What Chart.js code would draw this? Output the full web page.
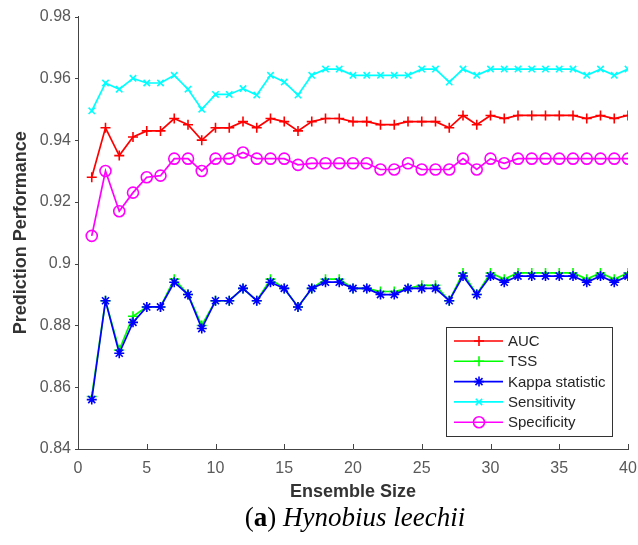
<!DOCTYPE html>
<html>
<head>
<meta charset="utf-8">
<script src="https://cdn.jsdelivr.net/npm/chart.js@4/dist/chart.umd.min.js"></script>
<style>
  body { margin: 0; background: #fff; }
  #wrap { position: relative; width: 638px; height: 545px; }
  #caption {
    position: absolute; left: 0; top: 502px; width: 710px;
    text-align: center; font-family: 'Liberation Serif', serif; font-size: 27px; color: #000;
  }
</style>
</head>
<body>
<div id="wrap">
  <canvas id="Chart" width="638" height="503"></canvas>
  <div id="caption">(<b>a</b>) <i>Hynobius leechii</i></div>
</div>
<script>
const ensembleSize = Array.from({ length: 40 }, (_, i) => i + 1);
const xTicks = [0, 5, 10, 15, 20, 25, 30, 35, 40];
const yTicks = [0.84, 0.86, 0.88, 0.9, 0.92, 0.94, 0.96, 0.98];

const auc = [0.928, 0.944, 0.935, 0.941, 0.943, 0.943, 0.947, 0.945, 0.940, 0.944,
  0.944, 0.946, 0.944, 0.947, 0.946, 0.943, 0.946, 0.947, 0.947, 0.946,
  0.946, 0.945, 0.945, 0.946, 0.946, 0.946, 0.944, 0.948, 0.945, 0.948,
  0.947, 0.948, 0.948, 0.948, 0.948, 0.948, 0.947, 0.948, 0.947, 0.948];
const tss = [0.857, 0.888, 0.872, 0.883, 0.886, 0.886, 0.895, 0.890, 0.880, 0.888,
  0.888, 0.892, 0.888, 0.895, 0.892, 0.886, 0.892, 0.895, 0.895, 0.892,
  0.892, 0.891, 0.891, 0.892, 0.893, 0.893, 0.888, 0.897, 0.890, 0.897,
  0.895, 0.897, 0.897, 0.897, 0.897, 0.897, 0.895, 0.897, 0.895, 0.897];
const kappa = [0.856, 0.888, 0.871, 0.881, 0.886, 0.886, 0.894, 0.890, 0.879, 0.888,
  0.888, 0.892, 0.888, 0.894, 0.892, 0.886, 0.892, 0.894, 0.894, 0.892,
  0.892, 0.890, 0.890, 0.892, 0.892, 0.892, 0.888, 0.896, 0.890, 0.896,
  0.894, 0.896, 0.896, 0.896, 0.896, 0.896, 0.894, 0.896, 0.894, 0.896];
const sensitivity = [0.9495, 0.9585, 0.9565, 0.960, 0.9585, 0.9585, 0.961, 0.9565, 0.950, 0.9548,
  0.9548, 0.9567, 0.9546, 0.961, 0.9588, 0.9546, 0.961, 0.963, 0.963, 0.961,
  0.961, 0.961, 0.961, 0.961, 0.963, 0.963, 0.9588, 0.963, 0.961, 0.963,
  0.963, 0.963, 0.963, 0.963, 0.963, 0.963, 0.961, 0.963, 0.961, 0.963];
const specificity = [0.909, 0.930, 0.917, 0.923, 0.928, 0.9285, 0.934, 0.934, 0.930, 0.934,
  0.934, 0.936, 0.934, 0.934, 0.934, 0.932, 0.9325, 0.9325, 0.9325, 0.9325,
  0.9325, 0.9305, 0.9305, 0.9325, 0.9305, 0.9305, 0.9305, 0.934, 0.9305, 0.934,
  0.9325, 0.934, 0.934, 0.934, 0.934, 0.934, 0.934, 0.934, 0.934, 0.934];

const FONT = "'Liberation Sans', Arial, sans-serif";

function series(label, values, color, style, radius, order) {
  return {
    label: label,
    data: ensembleSize.map((x, i) => ({ x: x, y: values[i] })),
    borderColor: color,
    borderWidth: 1.7,
    fill: false,
    tension: 0,
    pointStyle: style,
    pointRadius: radius,
    pointBorderColor: color,
    pointBackgroundColor: style === 'circle' ? 'rgba(0,0,0,0)' : color,
    pointBorderWidth: 1.6,
    order: order
  };
}

const datasets = [
  series('AUC', auc, '#ff0000', 'cross', 5, 4),
  series('TSS', tss, '#00ff00', 'cross', 5, 3),
  series('Kappa statistic', kappa, '#0000ff', 'star', 5, 2),
  series('Sensitivity', sensitivity, '#00ffff', 'crossRot', 4.5, 1),
  series('Specificity', specificity, '#ff00ff', 'circle', 5.5, 0)
];

function marker(ctx, style, x, y, r) {
  ctx.beginPath();
  if (style === 'circle') {
    ctx.arc(x, y, r, 0, Math.PI * 2);
  } else {
    const angles = style === 'cross' ? [0, 90] : style === 'crossRot' ? [45, 135] : [0, 45, 90, 135];
    angles.forEach(a => {
      const dx = Math.cos(a * Math.PI / 180) * r, dy = Math.sin(a * Math.PI / 180) * r;
      ctx.moveTo(x - dx, y - dy);
      ctx.lineTo(x + dx, y + dy);
    });
  }
  ctx.stroke();
}

// inward x ticks, short outward y ticks and the boxed legend, like the matlab figure
const axisExtras = {
  id: 'axisExtras',
  afterDraw(chart) {
    const { ctx, chartArea, scales } = chart;
    ctx.save();
    ctx.strokeStyle = '#444';
    ctx.lineWidth = 1;
    xTicks.forEach(v => {
      const px = Math.round(scales.x.getPixelForValue(v)) + 0.5;
      ctx.beginPath();
      ctx.moveTo(px, chartArea.bottom);
      ctx.lineTo(px, chartArea.bottom - 5);
      ctx.stroke();
    });
    yTicks.forEach(v => {
      const py = Math.round(scales.y.getPixelForValue(v)) + 0.5;
      ctx.beginPath();
      ctx.moveTo(chartArea.left, py);
      ctx.lineTo(chartArea.left - 3, py);
      ctx.stroke();
    });

    const w = 166, h = 109;
    const bx = chartArea.right - 16 - w, by = chartArea.bottom - 13 - h;
    ctx.fillStyle = '#fff';
    ctx.fillRect(bx, by, w, h);
    ctx.strokeStyle = '#333';
    ctx.strokeRect(bx + 0.5, by + 0.5, w, h);
    ctx.font = '15px ' + FONT;
    ctx.textBaseline = 'middle';
    datasets.forEach((ds, i) => {
      const y = by + 14 + i * 20.3;
      ctx.strokeStyle = ds.borderColor;
      ctx.lineWidth = 1.6;
      ctx.beginPath();
      ctx.moveTo(bx + 8, y);
      ctx.lineTo(bx + 57, y);
      ctx.stroke();
      marker(ctx, ds.pointStyle, bx + 33, y, ds.pointRadius);
      ctx.fillStyle = '#262626';
      ctx.fillText(ds.label, bx + 62, y + 1);
    });
    ctx.restore();
  }
};

const ctx = document.getElementById('Chart').getContext('2d');
new Chart(ctx, {
  type: 'line',
  data: { datasets: datasets },
  plugins: [axisExtras],
  options: {
    responsive: false,
    animation: false,
    layout: { padding: { top: 15, right: 10, left: 0, bottom: 0 } },
    plugins: {
      legend: { display: false },
      tooltip: { enabled: false }
    },
    scales: {
      x: {
        type: 'linear',
        min: 0,
        max: 40,
        afterBuildTicks: s => { s.ticks = xTicks.map(v => ({ value: v })); },
        afterFit: s => { s.height = 54; s.paddingLeft = 0; s.paddingRight = 0; },
        grid: { display: true, drawOnChartArea: false, drawTicks: false },
        border: { color: '#444', width: 1 },
        ticks: { color: '#595959', font: { family: FONT, size: 16 }, padding: 10, maxRotation: 0 },
        title: {
          display: true,
          text: 'Ensemble Size',
          color: '#333',
          font: { family: FONT, size: 18, weight: 'bold' },
          padding: { top: 0, bottom: 0 }
        }
      },
      y: {
        min: 0.84,
        max: 0.98,
        afterBuildTicks: s => { s.ticks = yTicks.map(v => ({ value: v })); },
        afterFit: s => { s.width = 78; },
        grid: { display: true, drawOnChartArea: false, drawTicks: false },
        border: { color: '#444', width: 1 },
        ticks: { color: '#595959', font: { family: FONT, size: 16 }, padding: 7, callback: v => String(v) },
        title: {
          display: true,
          text: 'Prediction Performance',
          color: '#333',
          font: { family: FONT, size: 18, weight: 'bold' },
          padding: { top: 10, bottom: 0 }
        }
      }
    }
  }
});
</script>
</body>
</html>
